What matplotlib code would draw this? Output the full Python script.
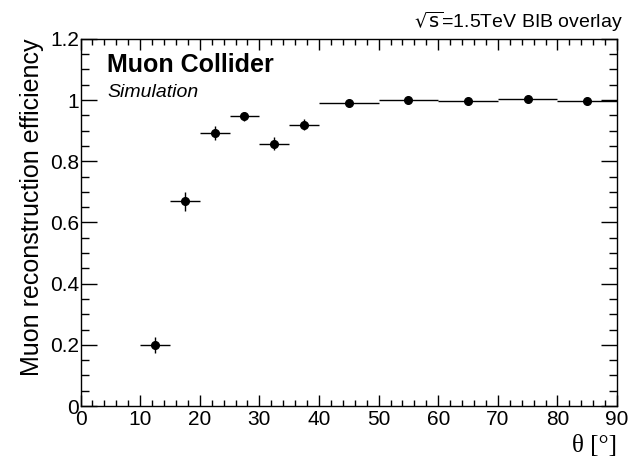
import matplotlib
matplotlib.use("Agg")
import matplotlib.pyplot as plt
from matplotlib.ticker import MultipleLocator
import numpy as np

# efficiency vs theta, bins
bin_lo = [10, 15, 20, 25, 30, 35, 40, 50, 60, 70, 80]
bin_hi = [15, 20, 25, 30, 35, 40, 50, 60, 70, 80, 90]
eff = [0.200, 0.670, 0.893, 0.947, 0.858, 0.920, 0.991, 0.999, 0.998, 1.002, 0.996]
eff_err = [0.025, 0.031, 0.022, 0.015, 0.022, 0.018, 0.006, 0.003, 0.004, 0.003, 0.005]

plt.rcParams["font.family"] = ["Liberation Sans", "DejaVu Sans"]

lo = np.array(bin_lo)
hi = np.array(bin_hi)
x = (lo + hi) / 2
xerr = (hi - lo) / 2

fig = plt.figure(figsize=(6.29, 4.63), dpi=100)
ax = fig.add_axes([0.128, 0.123, 0.853, 0.793])

ax.errorbar(x, eff, xerr=xerr, yerr=eff_err, fmt="o", color="black",
            markersize=5.5, elinewidth=1, capsize=0)

ax.set_xlim(0, 90)
ax.set_ylim(0, 1.2)
ax.xaxis.set_major_locator(MultipleLocator(10))
ax.xaxis.set_minor_locator(MultipleLocator(2))
ax.yaxis.set_minor_locator(MultipleLocator(0.05))
ax.set_yticks([0, 0.2, 0.4, 0.6, 0.8, 1.0, 1.2])
ax.set_yticklabels(["0", "0.2", "0.4", "0.6", "0.8", "1", "1.2"])

ax.tick_params(which="both", direction="in", top=True, right=True,
               labelsize=15, width=1)
ax.tick_params(axis="x", which="major", length=8, pad=3)
ax.tick_params(axis="x", which="minor", length=4)
ax.tick_params(axis="y", which="major", length=11.5, pad=1)
ax.tick_params(axis="y", which="minor", length=6)
for s in ax.spines.values():
    s.set_linewidth(1)

ax.set_ylabel("Muon reconstruction efficiency", fontsize=18, loc="top", labelpad=4)
ax.set_xlabel("θ [°]", fontsize=18, loc="right", labelpad=4,
              family=["Liberation Serif", "DejaVu Serif"])

ax.text(0.05, 0.962, "Muon Collider", transform=ax.transAxes, fontsize=18,
        fontweight="bold", va="top")
ax.text(0.05, 0.878, "Simulation", transform=ax.transAxes, fontsize=14,
        style="italic", va="top")
fig.text(0.99, 0.927, "$\\sqrt{\\mathrm{s}}$=1.5TeV BIB overlay", ha="right",
         va="bottom", fontsize=14)

fig.savefig("out.png", dpi=100)
